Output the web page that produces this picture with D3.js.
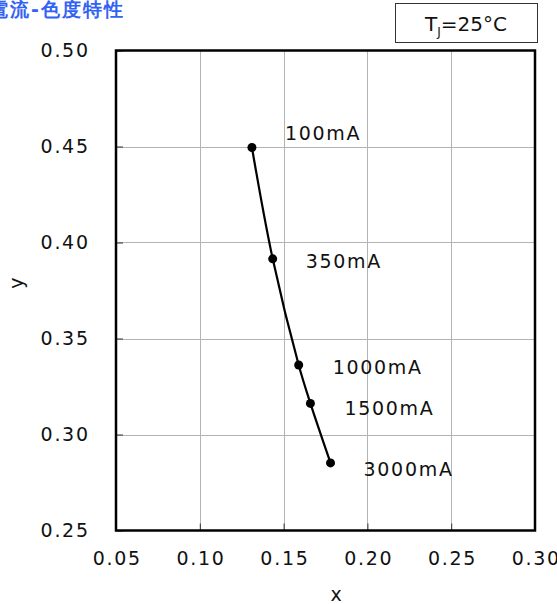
<!DOCTYPE html>
<html><head><meta charset="utf-8">
<script src="https://cdn.jsdelivr.net/npm/d3@7/dist/d3.min.js"></script>
<style>body{margin:0;background:#fff}svg{display:block}text{font-family:"DejaVu Sans",Verdana,sans-serif}</style>
</head><body>
<svg id="c" width="557" height="604"></svg>
<script>
const currents = ["100mA","350mA","1000mA","1500mA","3000mA"];
const xValues = [0.1311, 0.1435, 0.1590, 0.1660, 0.1780];
const yValues = [0.4495, 0.3915, 0.3362, 0.3162, 0.2852];
const xTicks = [0.05,0.10,0.15,0.20,0.25,0.30];
const yTicks = [0.25,0.30,0.35,0.40,0.45,0.50];
const labelOffsets = [[33,-7],[33,9],[34,9],[34,12],[33,13]];

const svg = d3.select("#c");
const L=116, R=535, T=50.5, B=530.5;
const x = d3.scaleLinear().domain([0.05,0.30]).range([L,R]);
const y = d3.scaleLinear().domain([0.25,0.50]).range([B,T]);

// gridlines
svg.append("g").selectAll("line").data(xTicks.slice(1,-1)).join("line")
  .attr("x1",d=>Math.round(x(d))+0.5).attr("x2",d=>Math.round(x(d))+0.5)
  .attr("y1",T).attr("y2",B).attr("stroke","#b4b4b4").attr("stroke-width",1);
svg.append("g").selectAll("line").data(yTicks.slice(1,-1)).join("line")
  .attr("y1",d=>Math.round(y(d))+0.5).attr("y2",d=>Math.round(y(d))+0.5)
  .attr("x1",L).attr("x2",R).attr("stroke","#b4b4b4").attr("stroke-width",1);

// axes (inside ticks)
const xa = svg.append("g").attr("transform",`translate(0,${B})`)
  .call(d3.axisBottom(x).tickValues(xTicks).tickSize(-7).tickPadding(21).tickFormat(d3.format(".2f")));
const ya = svg.append("g").attr("transform",`translate(${L},0)`)
  .call(d3.axisLeft(y).tickValues(yTicks).tickSize(-7).tickPadding(28).tickFormat(d3.format(".2f")));
[xa,ya].forEach(a=>{a.select(".domain").remove();a.selectAll(".tick line").attr("stroke","#333");
  a.selectAll("text").attr("font-size",19).attr("letter-spacing","1.7px").attr("fill","#111")
   .attr("font-family","DejaVu Sans, Verdana, sans-serif");});
xa.selectAll("text").attr("dy","0.71em").attr("dx","0.8");
ya.selectAll("text").attr("dx","1.7");

// frame
svg.append("rect").attr("x",L).attr("y",T).attr("width",R-L).attr("height",B-T)
  .attr("fill","none").attr("stroke","#000").attr("stroke-width",2.5);

// line
const pts = xValues.map((v,i)=>[v,yValues[i]]);
svg.append("path").datum(pts)
  .attr("d",d3.line().x(d=>x(d[0])).y(d=>y(d[1])).curve(d3.curveCatmullRom))
  .attr("fill","none").attr("stroke","#000").attr("stroke-width",2.2);
svg.append("g").selectAll("circle").data(pts).join("circle")
  .attr("cx",d=>x(d[0])).attr("cy",d=>y(d[1])).attr("r",4.5).attr("fill","#000");
svg.append("g").selectAll("text").data(pts).join("text")
  .attr("x",(d,i)=>x(d[0])+labelOffsets[i][0]).attr("y",(d,i)=>y(d[1])+labelOffsets[i][1])
  .attr("font-size",19).attr("letter-spacing","1.7px").attr("fill","#111").text((d,i)=>currents[i]);

// axis titles
svg.append("text").attr("x",336).attr("y",601).attr("text-anchor","middle").attr("font-size",19).attr("fill","#111").text("x");
svg.append("text").attr("transform","translate(23,283) rotate(-90)").attr("text-anchor","middle").attr("font-size",19).attr("fill","#111").text("y");

// title (cut at left edge as in the reference)
svg.append("text").attr("x",-32).attr("y",16).attr("font-size",19).attr("letter-spacing","2px").attr("font-weight","bold")
  .attr("font-family","Noto Sans CJK JP, sans-serif").attr("fill","#3262f5").text("順電流-色度特性");

// TJ box
svg.append("rect").attr("x",395.5).attr("y",3.5).attr("width",142).attr("height",39)
  .attr("fill","#fff").attr("stroke","#333").attr("stroke-width",1);
const tj = svg.append("text").attr("x",466).attr("y",31).attr("text-anchor","middle").attr("font-size",20).attr("fill","#111");
tj.append("tspan").text("T");
tj.append("tspan").attr("font-size",12).attr("dy",5).text("J");
tj.append("tspan").attr("dy",-5).text("=25°C");
</script>
</body></html>
